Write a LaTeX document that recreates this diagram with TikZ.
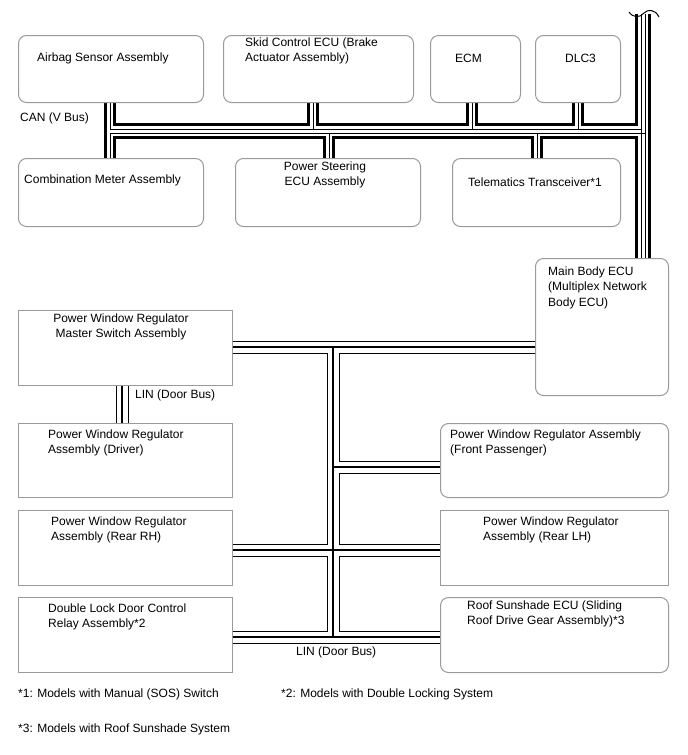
\documentclass[tikz,border=0pt]{standalone}
\usepackage{fontspec}
\setmainfont{Liberation Sans}
\usetikzlibrary{calc,backgrounds}
\definecolor{boxc}{HTML}{9A9A9A}
\tikzset{
  box/.style={draw=boxc,line width=1pt,rounded corners=8pt,fill=white,inner sep=0pt,anchor=north west},
  sqbox/.style={box,sharp corners},
  txt/.style={font=\fontsize{12}{15.5}\selectfont,inner sep=0pt,anchor=north west,align=left}
}
% bus paths, drawn three times (outer, white, core)
\newcommand{\canpath}{
  (airbag.south -| canW) |- (canE)
  (meter.north -| canW) |- (canF)
  (topL) -- (mainbody.north -| topL)
  (topR) -- (mainbody.north -| topR)
  (skid.south -| jSkid) -- (jSkid)
  (ecm.south -| jEcm) -- (jEcm)
  (dlc.south -| jDlc) -- (jDlc)
  (pwrst.north -| jPs) -- (jPs)
  (telem.north -| jTel) -- (jTel)
}
\newcommand{\linpath}{
  (master.east |- linN) -- (mainbody.west |- linN)
  (linN) -- (linS)
  (rearrh.east |- linM) -- (rearlh.west |- linM)
  (linP) -- (frontp.west |- linP)
  (dlock.east |- linS) -- (roof.west |- linS)
  (master.south -| doorX) -- (driver.north -| doorX)
}

\begin{document}
\begin{tikzpicture}[x=1pt,y=-1pt]
\useasboundingbox (0,0) rectangle (688,755);
% top row
\node[box,minimum width=185pt,minimum height=67pt] (airbag) at (18,35) {};
\node[box,minimum width=190pt,minimum height=67pt] (skid) at (223,35) {};
\node[box,minimum width=90pt,minimum height=67pt] (ecm) at (430,35) {};
\node[box,minimum width=85pt,minimum height=67pt] (dlc) at (535,35) {};
% second row
\node[box,minimum width=185pt,minimum height=68pt] (meter) at (18,158) {};
\node[box,minimum width=185pt,minimum height=68pt] (pwrst) at (235,158) {};
\node[box,minimum width=168pt,minimum height=68pt] (telem) at (452,158) {};
\node[box,minimum width=133pt,minimum height=137pt] (mainbody) at (535,258) {};
% door side
\node[sqbox,minimum width=214pt,minimum height=75pt] (master) at (18,310) {};
\node[sqbox,minimum width=214pt,minimum height=74pt] (driver) at (18,423) {};
\node[sqbox,minimum width=214pt,minimum height=75pt] (rearrh) at (18,510) {};
\node[sqbox,minimum width=214pt,minimum height=75pt] (dlock) at (18,597) {};
\node[box,minimum width=228pt,minimum height=74pt] (frontp) at (440,423) {};
\node[sqbox,minimum width=228pt,minimum height=75pt] (rearlh) at (440,510) {};
\node[box,minimum width=228pt,minimum height=75pt] (roof) at (440,597) {};

\node[txt] (airbagT) at (37,52.5) {Airbag Sensor Assembly};
\node[txt] (skidT) at (245,37.5) {Skid Control ECU (Brake\\Actuator Assembly)};
\node[txt] (ecmT) at (455,53.5) {ECM};
\node[txt] (dlcT) at (565,53.5) {DLC3};
\node[txt] (meterT) at (24,174.5) {Combination Meter Assembly};
\node[txt,anchor=north,align=center] (pwrstT) at (325,161.5) {Power Steering\\ECU Assembly};
\node[txt] (telemT) at (468,177.5) {Telematics Transceiver*1};
\node[txt] (mainbodyT) at (548,266.5) {Main Body ECU\\(Multiplex Network\\Body ECU)};
\node[txt,anchor=north,align=center] (masterT) at (121,313.5) {Power Window Regulator\\Master Switch Assembly};
\node[txt] (driverT) at (48,429.5) {Power Window Regulator\\Assembly (Driver)};
\node[txt] (rearrhT) at (51,516.5) {Power Window Regulator\\Assembly (Rear RH)};
\node[txt] (dlockT) at (48,603.5) {Double Lock Door Control\\Relay Assembly*2};
\node[txt] (frontpT) at (450,429.5) {Power Window Regulator Assembly\\(Front Passenger)};
\node[txt] (rearlhT) at (483,516.5) {Power Window Regulator\\Assembly (Rear LH)};
\node[txt] (roofT) at (467,600.5) {Roof Sunshade ECU (Sliding\\Roof Drive Gear Assembly)*3};

\node[txt] (canL) at (20,112.5) {CAN (V Bus)};
\node[txt] (doorL) at (135,389.5) {LIN (Door Bus)};
\node[txt] (linL) at (296,646.5) {LIN (Door Bus)};
\node[txt] (note1) at (18,688.5) {*1: Models with Manual (SOS) Switch};
\node[txt] (note2) at (281,688.5) {*2: Models with Double Locking System};
\node[txt] (note3) at (18,723.5) {*3: Models with Roof Sunshade System};

% junction points
\coordinate (canW) at (110,129); \coordinate (canE) at (641,129); \coordinate (canF) at (645,133);
\coordinate (topL) at (641,14); \coordinate (topR) at (645,14);
\coordinate (jSkid) at (313,129); \coordinate (jEcm) at (472,129); \coordinate (jDlc) at (578,129);
\coordinate (jPs) at (329,133); \coordinate (jTel) at (537,133);
\coordinate (linN) at (333,347); \coordinate (linP) at (333,467);
\coordinate (linM) at (333,550); \coordinate (linS) at (333,637);
\coordinate (doorX) at (122,0);

\begin{scope}[on background layer]
\foreach \w/\c in {11.5/black,6/white,1/black}{\draw[line width=\w pt,\c] \canpath;}
\foreach \w/\c in {13/black,11/white,2.5/black}{\draw[line width=\w pt,\c] \linpath;}
\end{scope}
% break mark on the trunk
\draw[line width=1pt] (629,12) .. controls (633,18) and (640,18) .. (644,13) .. controls (648,9) and (655,9) .. (659,17);
\end{tikzpicture}
\end{document}
